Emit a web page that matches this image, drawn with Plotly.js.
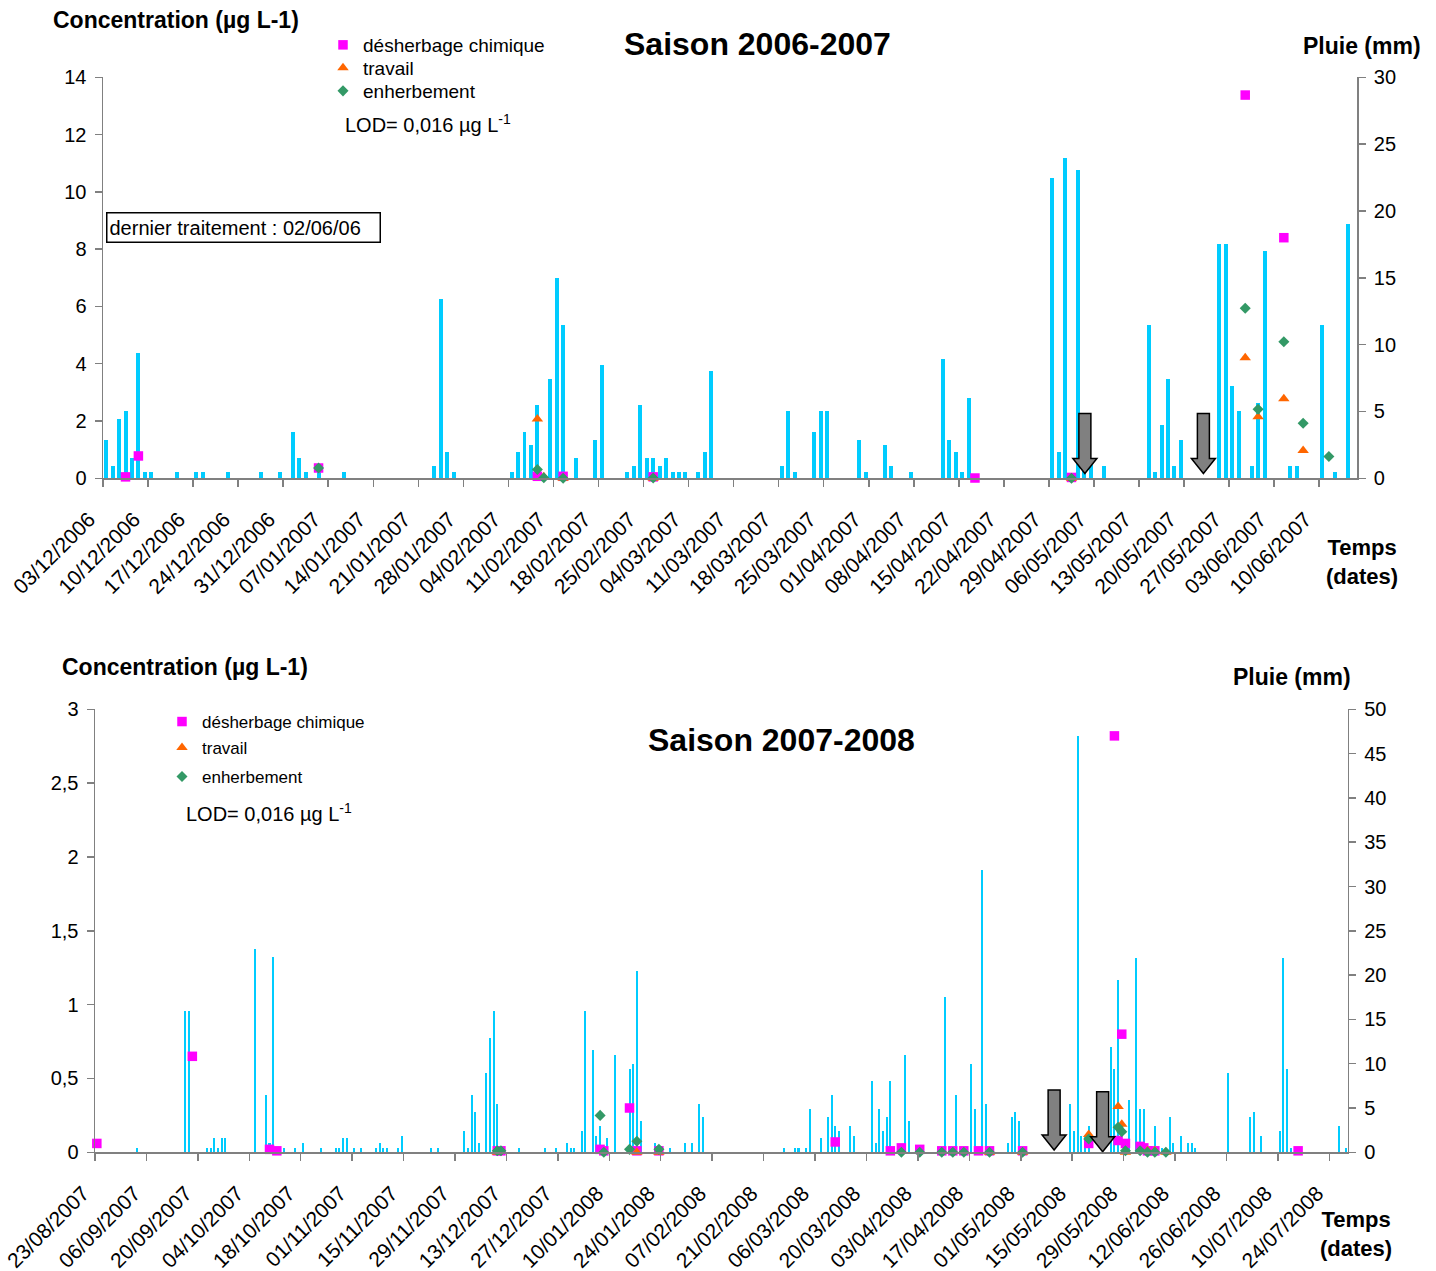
<!DOCTYPE html>
<html><head><meta charset="utf-8">
<script src="https://cdn.plot.ly/plotly-3.0.1.min.js"></script>
<style>html,body{margin:0;padding:0;background:#fff}#chart{width:1436px;height:1271px}</style>
</head><body><div id="chart"></div>
<script>
// ===== Saison 2006-2007 =====
const rainDates1 = ['2006-12-03','2006-12-04','2006-12-05','2006-12-06','2006-12-07','2006-12-08','2006-12-09','2006-12-10','2006-12-14','2006-12-17','2006-12-18','2006-12-22','2006-12-27','2006-12-30',
 '2007-01-01','2007-01-02','2007-01-03','2007-01-05','2007-01-09','2007-01-23','2007-01-24','2007-01-25','2007-01-26',
 '2007-02-04','2007-02-05','2007-02-06','2007-02-07','2007-02-08','2007-02-10','2007-02-11','2007-02-12','2007-02-14','2007-02-17','2007-02-18','2007-02-22','2007-02-23','2007-02-24','2007-02-25','2007-02-26','2007-02-27','2007-02-28',
 '2007-03-01','2007-03-02','2007-03-03','2007-03-05','2007-03-06','2007-03-07','2007-03-18','2007-03-19','2007-03-20','2007-03-23','2007-03-24','2007-03-25','2007-03-30','2007-03-31',
 '2007-04-03','2007-04-04','2007-04-07','2007-04-12','2007-04-13','2007-04-14','2007-04-15','2007-04-16','2007-04-29','2007-04-30',
 '2007-05-01','2007-05-03','2007-05-04','2007-05-05','2007-05-07','2007-05-14','2007-05-15','2007-05-16','2007-05-17','2007-05-18','2007-05-19','2007-05-25','2007-05-26','2007-05-27','2007-05-28','2007-05-30','2007-05-31',
 '2007-06-01','2007-06-05','2007-06-06','2007-06-10','2007-06-12','2007-06-14'];
const rainMm1 = [2.9,0.9,4.4,5.0,1.5,9.4,0.5,0.5,0.5,0.5,0.5,0.5,0.5,0.5,
 3.5,1.5,0.5,0.5,0.5,0.9,13.4,2.0,0.5,
 0.5,2.0,3.5,2.5,5.5,7.4,15.0,11.5,1.5,2.9,8.5,0.5,0.9,5.5,1.5,1.5,0.9,1.5,
 0.5,0.5,0.5,0.5,2.0,8.0,0.9,5.0,0.5,3.5,5.0,5.0,2.9,0.5,
 2.5,0.9,0.5,8.9,2.9,2.0,0.5,6.0,22.5,2.0,
 24.0,23.1,1.5,1.0,0.9,11.5,0.5,4.0,7.4,0.9,2.9,17.5,17.5,6.9,5.0,0.9,5.6,
 17.0,0.9,0.9,11.5,0.5,19.0];
const desherbDates1 = ['2006-12-06','2006-12-08','2007-01-05','2007-02-08','2007-02-12','2007-02-26','2007-04-17','2007-05-02','2007-05-29','2007-06-04'];
const desherbConc1  = [0.05,0.78,0.36,0.07,0.07,0.05,0.01,0.03,13.38,8.4];
const travailDates1 = ['2007-02-08','2007-02-09','2007-02-12','2007-02-26','2007-05-02','2007-05-29','2007-05-31','2007-06-04','2007-06-07'];
const travailConc1  = [2.07,0.05,0.0,0.0,0.0,4.21,2.15,2.78,0.97];
const enherbDates1  = ['2007-01-05','2007-02-08','2007-02-09','2007-02-12','2007-02-26','2007-05-02','2007-05-29','2007-05-31','2007-06-04','2007-06-07','2007-06-11'];
const enherbConc1   = [0.36,0.31,0.02,0.0,0.01,0.0,5.94,2.41,4.77,1.92,0.76];
const arrowDates1 = ['2007-05-04 14:00','2007-05-23 00:00'];
const arrowTip1 = [0.17,0.17];

// ===== Saison 2007-2008 =====
const rainDates2 = ['2007-09-03','2007-09-16','2007-09-17','2007-09-22','2007-09-23','2007-09-24','2007-09-25','2007-09-26','2007-09-27',
 '2007-10-05','2007-10-08','2007-10-09','2007-10-10','2007-10-13','2007-10-16','2007-10-18','2007-10-23','2007-10-27','2007-10-28','2007-10-29','2007-10-30',
 '2007-11-01','2007-11-03','2007-11-07','2007-11-08','2007-11-09','2007-11-10','2007-11-13','2007-11-14','2007-11-22','2007-11-24',
 '2007-12-01','2007-12-02','2007-12-03','2007-12-04','2007-12-05','2007-12-07','2007-12-08','2007-12-09','2007-12-10','2007-12-16','2007-12-23','2007-12-26','2007-12-29','2007-12-30','2007-12-31',
 '2008-01-02','2008-01-03','2008-01-05','2008-01-06','2008-01-07','2008-01-09','2008-01-11','2008-01-15','2008-01-16','2008-01-17','2008-01-18','2008-01-22','2008-01-26','2008-01-30',
 '2008-02-01','2008-02-03','2008-02-04','2008-02-26','2008-02-29',
 '2008-03-01','2008-03-03','2008-03-04','2008-03-07','2008-03-09','2008-03-10','2008-03-11','2008-03-12','2008-03-15','2008-03-16','2008-03-21','2008-03-22','2008-03-23','2008-03-24','2008-03-25','2008-03-26','2008-03-30','2008-03-31',
 '2008-04-10','2008-04-13','2008-04-17','2008-04-18','2008-04-20','2008-04-21','2008-04-27','2008-04-28','2008-04-29','2008-04-30',
 '2008-05-14','2008-05-15','2008-05-16','2008-05-17','2008-05-18','2008-05-19','2008-05-25','2008-05-26','2008-05-27','2008-05-30',
 '2008-06-01','2008-06-02','2008-06-03','2008-06-06','2008-06-08','2008-06-10','2008-06-11','2008-06-13','2008-06-15','2008-06-16','2008-06-17','2008-06-26',
 '2008-07-02','2008-07-03','2008-07-05','2008-07-10','2008-07-11','2008-07-12','2008-07-13','2008-07-26','2008-07-28'];
const rainMm2 = [0.5,16,16,0.5,0.5,1.6,0.5,1.6,1.6,
 23,6.5,1.0,22,0.5,0.5,1.0,0.5,0.5,0.5,1.6,1.6,
 0.5,0.5,0.5,1.0,0.5,0.5,0.5,1.8,0.5,0.5,
 2.4,0.5,6.5,4.5,1.0,9.0,12.9,16.0,5.5,0.5,0.5,0.5,1.0,0.5,0.5,
 2.4,16.0,11.5,1.8,3.0,1.6,11.0,9.4,10.0,20.5,3.5,1.0,0.5,1.0,
 1.0,5.5,4.0,0.5,0.5,
 0.5,0.5,4.9,1.6,4.0,6.5,3.0,2.4,3.0,1.8,8.0,1.0,4.9,2.4,4.0,8.0,11.0,3.5,
 17.5,6.5,10.0,4.9,31.9,5.5,1.0,4.0,4.5,3.5,
 5.5,2.4,47.0,1.8,1.8,3.0,11.9,9.4,19.5,5.9,
 21.9,4.9,4.9,3.0,0.5,4.0,1.0,1.8,1.0,1.0,0.5,9.0,
 4.0,4.5,1.8,2.4,21.9,9.4,0.5,3.0,0.5];
const desherbDates2 = ['2007-08-23','2007-09-18','2007-10-09','2007-10-11','2007-12-10','2007-12-11','2008-01-07','2008-01-08','2008-01-15','2008-01-17','2008-01-23',
 '2008-03-11','2008-03-26','2008-03-29','2008-04-03','2008-04-09','2008-04-12','2008-04-15','2008-04-19','2008-04-22','2008-05-01',
 '2008-05-19','2008-05-26','2008-05-27','2008-05-28','2008-05-29','2008-06-02','2008-06-03','2008-06-04','2008-06-06','2008-07-15'];
const desherbConc2 = [0.06,0.65,0.02,0.01,0.01,0.01,0.02,0.01,0.30,0.01,0.01,
 0.07,0.01,0.03,0.02,0.01,0.01,0.01,0.01,0.01,0.01,
 0.06,2.82,0.08,0.80,0.06,0.04,0.03,0.01,0.01,0.01];
const travailDates2 = ['2007-12-10','2008-01-17','2008-01-23','2008-04-22','2008-05-01','2008-05-19','2008-05-27','2008-05-28','2008-05-29','2008-06-04','2008-06-06','2008-06-09'];
const travailConc2  = [0.0,0.0,0.0,0.0,0.0,0.12,0.31,0.19,0.0,0.01,0.01,0.0];
const enherbDates2  = ['2007-12-10','2007-12-11','2008-01-07','2008-01-08','2008-01-15','2008-01-17','2008-01-23',
 '2008-03-29','2008-04-03','2008-04-09','2008-04-12','2008-04-15','2008-04-22','2008-05-01',
 '2008-05-19','2008-05-27','2008-05-28','2008-05-29','2008-06-02','2008-06-04','2008-06-06','2008-06-09'];
const enherbConc2   = [0.01,0.01,0.25,0.0,0.02,0.075,0.02,
 0.0,0.0,0.0,0.0,0.0,0.0,0.0,
 0.09,0.17,0.14,0.01,0.01,0.0,0.0,0.0];
const arrowDates2 = ['2008-05-10 02:00','2008-05-23 07:00'];
const arrowTip2 = [0.016,0.004];

const seriesNames = ['désherbage chimique','travail','enherbement'];

// ===== styling =====
const FONT = '"Liberation Sans", Arial, sans-serif';
const DAY = 86400000;
const W = 1436, H = 1271;
const AX = '#808080';
const colRain = '#00CCFF', colDes = '#FF00FF', colTra = '#FF6600', colEnh = '#339966';
const px = v => v / W, py = v => 1 - v / H;

function markerTrace(x, y, name, sym, size, color, xa, ya, leg) {
  return {type:'scatter', mode:'markers', x:x, y:y, name:name, xaxis:xa, yaxis:ya, legend:leg,
    xperiod:DAY, xperiodalignment:'middle', cliponaxis:false, hoverinfo:'skip',
    marker:{symbol:sym, size:size, color:color, line:{width:0}}};
}
const data = [
  {type:'bar', x:rainDates1, y:rainMm1, xaxis:'x', yaxis:'y', width:0.62*DAY, xperiod:DAY, xperiodalignment:'middle',
   marker:{color:colRain, line:{width:0}}, showlegend:false, hoverinfo:'skip'},
  markerTrace(desherbDates1, desherbConc1, seriesNames[0], 'square', 9.5, colDes, 'x', 'y2', 'legend'),
  markerTrace(travailDates1, travailConc1, seriesNames[1], 'triangle-up', 10, colTra, 'x', 'y2', 'legend2'),
  markerTrace(enherbDates1, enherbConc1, seriesNames[2], 'diamond', 8.5, colEnh, 'x', 'y2', 'legend3'),
  {type:'bar', x:rainDates2, y:rainMm2, xaxis:'x2', yaxis:'y3', width:0.55*DAY, xperiod:DAY, xperiodalignment:'middle',
   marker:{color:colRain, line:{width:0}}, showlegend:false, hoverinfo:'skip'},
  markerTrace(desherbDates2, desherbConc2, seriesNames[0], 'square', 9.5, colDes, 'x2', 'y4', 'legend4'),
  markerTrace(travailDates2, travailConc2, seriesNames[1], 'triangle-up', 10, colTra, 'x2', 'y4', 'legend5'),
  markerTrace(enherbDates2, enherbConc2, seriesNames[2], 'diamond', 8.5, colEnh, 'x2', 'y4', 'legend6')
];

const baseAx = {showgrid:false, zeroline:false, showline:true, linecolor:AX, linewidth:1.5,
  ticks:'outside', ticklen:7, tickwidth:1.5, tickcolor:AX, automargin:false, tickfont:{size:20, color:'#000', family:FONT}};
const xTop = Object.assign({}, baseAx, {domain:[px(103), px(1357.3)], anchor:'y', type:'date',
  range:['2006-12-03 00:00','2007-06-15 22:00'], tick0:'2006-12-03', dtick:7*DAY, tickformat:'%d/%m/%Y', tickangle:-45,
  ticklabelshift:-14, ticklabelstandoff:12, tickfont:{size:21, color:'#000', family:FONT}});
const xBot = Object.assign({}, baseAx, {domain:[px(95), px(1347.7)], anchor:'y3', type:'date',
  range:['2007-08-23 00:00','2008-07-29 00:00'], tick0:'2007-08-23', dtick:14*DAY, tickformat:'%d/%m/%Y', tickangle:-45,
  ticklabelshift:-12, ticklabelstandoff:12, tickfont:{size:21, color:'#000', family:FONT}});
const topDom = [py(478.3), py(77.3)], botDom = [py(1152.3), py(709.3)];

const legFont = (s) => ({family:FONT, size:s, color:'#000'});
function leg(xm, ym, s) {
  return {x:px(xm - 20), y:py(ym), xanchor:'left', yanchor:'middle', font:legFont(s), bgcolor:'rgba(0,0,0,0)', borderwidth:0};
}

function ann(text, x, y, size, opts) {
  return Object.assign({text:text, x:px(x), y:py(y), xref:'paper', yref:'paper', xanchor:'center', yanchor:'middle',
    showarrow:false, font:{family:FONT, size:size, color:'#000'}}, opts || {});
}

function arrowShape(date, tip, xref, yref) {
  return {type:'path', xref:xref, yref:yref, xsizemode:'pixel', ysizemode:'pixel', xanchor:date, yanchor:tip,
    path:'M0,0L-12,15L-6,15L-6,60L6,60L6,15L12,15Z', fillcolor:'#808080', line:{color:'#000', width:1.5}, layer:'above'};
}
const shapes = [];
arrowDates1.forEach((d,i) => shapes.push(arrowShape(d, arrowTip1[i], 'x', 'y2')));
arrowDates2.forEach((d,i) => shapes.push(arrowShape(d, arrowTip2[i], 'x2', 'y4')));

const layout = {
  width:W, height:H, margin:{l:0, r:0, t:0, b:0, pad:0},
  paper_bgcolor:'#fff', plot_bgcolor:'rgba(0,0,0,0)',
  separators:', ', font:{family:FONT, size:20, color:'#000'},
  hovermode:false, bargap:0,
  xaxis:xTop,
  yaxis:Object.assign({}, baseAx, {domain:topDom, anchor:'x', side:'right', range:[0,30], dtick:5, tick0:0, ticklabelstandoff:4}),
  yaxis2:Object.assign({}, baseAx, {overlaying:'y', anchor:'x', side:'left', range:[0,14], dtick:2, tick0:0, ticklabelstandoff:4}),
  yaxis5:{overlaying:'y', anchor:'x', side:'right', range:[0,30], dtick:5, tick0:0, ticks:'inside', ticklen:7, tickwidth:1.5, tickcolor:AX,
    showticklabels:false, showline:false, showgrid:false, zeroline:false, automargin:false},
  xaxis2:xBot,
  yaxis3:Object.assign({}, baseAx, {domain:botDom, anchor:'x2', side:'right', range:[0,50], dtick:5, tick0:0, ticklabelstandoff:4}),
  yaxis4:Object.assign({}, baseAx, {overlaying:'y3', anchor:'x2', side:'left', range:[0,3], dtick:0.5, tick0:0, ticklabelstandoff:4}),
  yaxis6:{overlaying:'y3', anchor:'x2', side:'right', range:[0,50], dtick:5, tick0:0, ticks:'inside', ticklen:7, tickwidth:1.5, tickcolor:AX,
    showticklabels:false, showline:false, showgrid:false, zeroline:false, automargin:false},
  legend:leg(343, 45, 19), legend2:leg(343, 68, 19), legend3:leg(343, 91, 19),
  legend4:leg(182, 722, 17), legend5:leg(182, 748, 17), legend6:leg(182, 777, 17),
  annotations:[
    ann('<b>Concentration (µg L-1)</b>', 176, 20, 23),
    ann('<b>Pluie (mm)</b>', 1362, 46, 23),
    ann('<b>Saison 2006-2007</b>', 757, 44, 32),
    ann('<b>Temps<br>(dates)</b>', 1362, 562, 22),
    ann('LOD= 0,016 µg L<sup>-1</sup>', 343, 124, 20, {xanchor:'left'}),
    ann('dernier traitement : 02/06/06', 106, 227, 20, {xanchor:'left', align:'left', width:268, height:24, borderpad:2,
      bordercolor:'#000', borderwidth:1.5, bgcolor:'#fff'}),
    ann('<b>Concentration (µg L-1)</b>', 185, 667, 23),
    ann('<b>Pluie (mm)</b>', 1292, 677, 23),
    ann('<b>Saison 2007-2008</b>', 781, 740, 32),
    ann('<b>Temps<br>(dates)</b>', 1356, 1234, 22),
    ann('LOD= 0,016 µg L<sup>-1</sup>', 184, 812, 20, {xanchor:'left'})
  ],
  shapes:shapes
};

Plotly.newPlot('chart', data, layout, {displayModeBar:false, staticPlot:true});
</script></body></html>
